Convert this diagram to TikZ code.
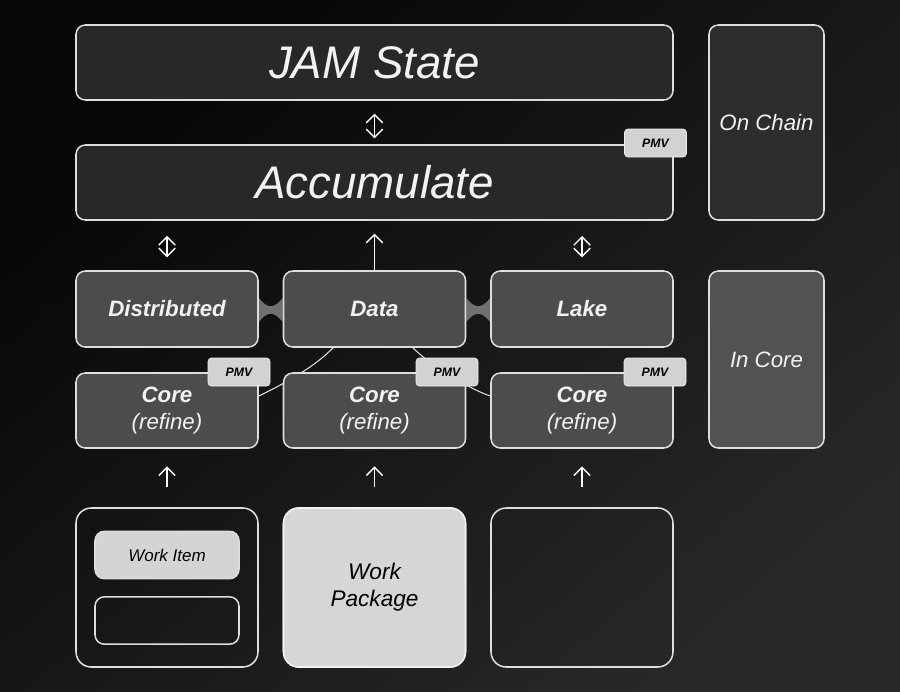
\documentclass[tikz,border=0pt]{standalone}
\usepackage{fontspec}
\setmainfont{Liberation Sans}
\usetikzlibrary{arrows.meta,calc}

\definecolor{edge}{RGB}{222,222,222}
\definecolor{darkbox}{RGB}{40,40,40}
\definecolor{chainbox}{RGB}{45,45,45}
\definecolor{midbox}{RGB}{76,76,76}
\definecolor{corebox}{RGB}{82,82,82}
\definecolor{tagfill}{RGB}{210,210,210}
\definecolor{paper}{RGB}{214,214,214}
\definecolor{bridgegray}{RGB}{112,112,112}
\definecolor{bgdark}{RGB}{6,6,6}
\definecolor{bglight}{RGB}{40,40,40}

\pgfdeclarelayer{bg}
\pgfdeclarelayer{back}
\pgfsetlayers{bg,back,main}

\tikzset{
  box/.style={draw=edge, line width=1.3pt, rounded corners=8pt, fill=#1, text=white!95!black, inner sep=0pt},
  wide/.style={box=darkbox, minimum width=179.1mm, minimum height=22.5mm, font=\fontsize{39}{44}\selectfont\itshape},
  side/.style={box=#1, minimum width=34.5mm, font=\fontsize{19}{22}\selectfont\itshape},
  lane/.style={box=midbox, minimum width=54.6mm, minimum height=22.8mm, font=\fontsize{19}{22}\selectfont\bfseries\itshape},
  core/.style={box=midbox, minimum width=54.6mm, minimum height=22.5mm, font=\fontsize{19}{23}\selectfont\itshape, align=center},
  pmv/.style={draw=white!88!gray, line width=0.6pt, fill=tagfill, rounded corners=3pt, minimum width=18.6mm, minimum height=8.4mm, inner sep=0pt, font=\fontsize{10.5}{12}\selectfont\bfseries\itshape, text=black},
  frame/.style={draw=edge, line width=1.3pt, rounded corners=13pt, minimum width=54.6mm, minimum height=47.7mm, inner sep=0pt},
  slot/.style={draw=edge, line width=1.3pt, rounded corners=8pt, minimum width=43.2mm, minimum height=14.2mm, inner sep=0pt},
  flow/.style={draw=white, line width=1.2pt},
  link/.style={draw=edge, line width=0.9pt},
  bridge/.style={fill=bridgegray},
  up/.style={-{Straight Barb[length=7pt,width=14pt]}},
  twoway/.style={{Straight Barb[length=7pt,width=14pt]}-{Straight Barb[length=7pt,width=14pt]}}
}

\begin{document}
\begin{tikzpicture}[x=0.3mm, y=-0.3mm]
  \begin{pgfonlayer}{bg}
    \shade[top color=bgdark, bottom color=bglight, shading angle=40] (0,0) rectangle (900,691);
  \end{pgfonlayer}

  % on chain
  \node[wide] (jam) at (374.5,62.5) {JAM State};
  \node[wide] (acc) at (374.5,182.5) {Accumulate};
  \node[side=chainbox, minimum height=58.5mm] (chain) at (766.5,122.5) {On Chain};
  \node[pmv] (accpmv) at (655.5,143) {PMV};

  % in core
  \foreach \x/\n/\t in {167/dist/Distributed, 374.5/data/Data, 582/lake/Lake} {
    \node[lane] (\n) at (\x,309) {\t};
  }
  \foreach \x/\n in {167/1, 374.5/2, 582/3} {
    \node[core] (core\n) at (\x,410.5) {\textbf{Core}\\(refine)};
    \node[frame] (pack\n) at (\x,587.5) {};
    \draw[flow, up, shorten <=17pt, shorten >=15pt] (pack\n.north) -- (core\n.south);
  }
  \foreach \x/\n in {239/1, 447/2, 655/3} {
    \node[pmv] (pmv\n) at (\x,372) {PMV};
  }
  \node[side=corebox, minimum height=53.1mm] (incore) at (766.5,359.5) {In Core};

  % work package
  \node[slot, fill=paper!105, font=\fontsize{14.5}{17}\selectfont\itshape] (item) at (167,555) {Work Item};
  \node[slot] (blank) at (167,620.5) {};
  \node[frame, fill=paper, draw=white!90!gray, align=center, font=\fontsize{19.3}{23}\selectfont\itshape] (wp) at (374.5,587.5) {Work\\Package};

  \begin{pgfonlayer}{back}
    \fill[bridge] ([shift={(0,-11)}]dist.east) .. controls +(9,11) and +(-9,11) .. ([shift={(0,-11)}]data.west)
      -- ([shift={(0,13)}]data.west) .. controls +(-9,-11) and +(9,-11) .. ([shift={(0,13)}]dist.east) -- cycle;
    \fill[bridge] ([shift={(0,-11)}]data.east) .. controls +(9,11) and +(-9,11) .. ([shift={(0,-11)}]lake.west)
      -- ([shift={(0,13)}]lake.west) .. controls +(-9,-11) and +(9,-11) .. ([shift={(0,13)}]data.east) -- cycle;
    \draw[link] ([shift={(-41.5,0)}]data.south) .. controls +(-18,19) and +(25,-12) .. ([shift={(0,-14.5)}]core1.east);
    \draw[link] ([shift={(38.5,0)}]data.south) .. controls +(15,16) and +(-21,-7) .. ([shift={(0,-14.5)}]core3.west);
    \draw[flow, up, shorten >=11pt] (data.north) -- (data.north |- acc.south);
  \end{pgfonlayer}

  \draw[flow, twoway, shorten <=5pt, shorten >=11pt] (acc.north) -- (jam.south);
  \foreach \n in {dist, lake} {
    \draw[flow, twoway, shorten <=11pt, shorten >=13pt] (\n.north) -- (\n.north |- acc.south);
  }
\end{tikzpicture}
\end{document}
